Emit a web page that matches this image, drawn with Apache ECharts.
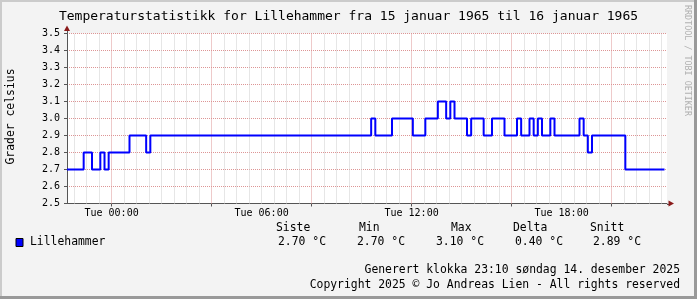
<!DOCTYPE html>
<html><head><meta charset="utf-8">
<script src="https://cdn.jsdelivr.net/npm/echarts@6/dist/echarts.min.js"></script>
<style>html,body{margin:0;padding:0;background:#f3f3f3;overflow:hidden}#c{width:697px;height:299px}</style>
</head><body><div id="c"></div>
<script>
const titleText = 'Temperaturstatistikk for Lillehammer fra 15 januar 1965 til 16 januar 1965';
const yAxisTitle = 'Grader celsius';
const sideText = 'RRDTOOL / TOBI OETIKER';
const seriesName = 'Lillehammer';
// time in minutes relative to Tue 00:00, value holds from that time on
const times = [-107,-67,-47,-27,-17,-7,43,83,93,623,633,673,723,753,783,803,813,823,853,863,893,913,943,973,983,1003,1013,1023,1033,1053,1063,1123,1133,1143,1153,1233,1327];
const temps = [2.7,2.8,2.7,2.8,2.7,2.8,2.9,2.8,2.9,3.0,2.9,3.0,2.9,3.0,3.1,3.0,3.1,3.0,2.9,3.0,2.9,3.0,2.9,3.0,2.9,3.0,2.9,3.0,2.9,3.0,2.9,3.0,2.9,2.8,2.9,2.7,2.7];
const xMin = -107, xMax = 1333;
const yMin = 2.5, yMax = 3.5, yStep = 0.1;
const labelTimes = [0, 360, 720, 1080];
const labelTexts = ['Tue 00:00', 'Tue 06:00', 'Tue 12:00', 'Tue 18:00'];
const majorGrid = [0, 240, 480, 720, 960, 1200];
const minorGrid = [];
for (let t = -90; t <= 1320; t += 30) if (majorGrid.indexOf(t) < 0) minorGrid.push(t);
const statHeaders = ['Siste', 'Min', 'Max', 'Delta', 'Snitt'];
const statValues = [2.70, 2.70, 3.10, 0.40, 2.89];
const statUnit = '°C';
const generatedText = 'Generert klokka 23:10 søndag 14. desember 2025';
const copyrightText = 'Copyright 2025 © Jo Andreas Lien - All rights reserved';

const MONO = "'DejaVu Sans Mono', 'Liberation Mono', monospace";
const AXIS = '#555555', ARROW = '#8a1a1a', GRID = '#cdcdcd', MGRID = '#dd9595';

const chart = echarts.init(document.getElementById('c'), null, {renderer: 'canvas'});
const data = times.map((t, i) => [t, temps[i]]);

const headerX = [276, 359, 451, 513, 590];
const valueX = [278, 357, 436, 515, 593];
const graphics = [];
statHeaders.forEach((h, i) => graphics.push({type: 'text', x: headerX[i], y: 228, style: {text: h, font: '11.4px ' + MONO, fill: '#000', textAlign: 'left', textVerticalAlign: 'middle'}}));
statValues.forEach((v, i) => graphics.push({type: 'text', x: valueX[i], y: 242.5, style: {text: v.toFixed(2) + ' ' + statUnit, font: '11.4px ' + MONO, fill: '#000', textAlign: 'left', textVerticalAlign: 'middle'}}));
graphics.push({type: 'text', x: 680, y: 270, style: {text: generatedText, font: '11.4px ' + MONO, fill: '#000', textAlign: 'right', textVerticalAlign: 'middle'}});
graphics.push({type: 'text', x: 680, y: 285, style: {text: copyrightText, font: '11.4px ' + MONO, fill: '#000', textAlign: 'right', textVerticalAlign: 'middle'}});
graphics.push({type: 'text', x: 11.5, y: 116.5, rotation: Math.PI / 2, style: {text: yAxisTitle, font: '11.4px ' + MONO, fill: '#000', textAlign: 'center', textVerticalAlign: 'middle'}});
graphics.push({type: 'text', x: 687, y: 5, rotation: -Math.PI / 2, style: {text: sideText, font: '8.4px ' + MONO, fill: '#b0b0b0', textAlign: 'left', textVerticalAlign: 'middle'}});
// image frame
graphics.push({type: 'rect', shape: {x: 0, y: 0, width: 697, height: 2}, style: {fill: '#cbcbcb'}, silent: true});
graphics.push({type: 'rect', shape: {x: 0, y: 0, width: 2, height: 299}, style: {fill: '#cbcbcb'}, silent: true});
graphics.push({type: 'rect', shape: {x: 694, y: 0, width: 3, height: 299}, style: {fill: '#999999'}, silent: true});
graphics.push({type: 'rect', shape: {x: 0, y: 296, width: 697, height: 3}, style: {fill: '#999999'}, silent: true});

function gridLines(values, color, z) {
  return {type: 'line', xAxisIndex: 0, yAxisIndex: 0, data: [], symbol: 'none', silent: true, z: z,
    lineStyle: {opacity: 0}, tooltip: {show: false},
    markLine: {silent: true, symbol: ['none', 'none'], z: z, animation: false, label: {show: false},
      emphasis: {disabled: true},
      lineStyle: {color: color, width: 1, type: [1, 1]},
      data: values.map(v => ({xAxis: v}))}};
}

chart.setOption({
  animation: false,
  backgroundColor: '#f3f3f3',
  title: {text: titleText, left: 'center', top: 5, textStyle: {fontFamily: MONO, fontSize: 13, fontWeight: 'normal', color: '#000'}},
  legend: {left: 15.5, top: 237, padding: 0, icon: 'rect', itemWidth: 7, itemHeight: 8, itemGap: 10, data: [seriesName],
    itemStyle: {borderColor: '#000', borderWidth: 1},
    textStyle: {fontFamily: MONO, fontSize: 11.4, color: '#000', padding: [0, 0, 0, 2]}},
  grid: {left: 67, right: 30, top: 33.5, bottom: 95.5, backgroundColor: '#fff', show: true, borderWidth: 0},
  xAxis: {type: 'value', min: xMin, max: xMax, position: 'bottom',
    axisLine: {show: true, onZero: false, lineStyle: {color: AXIS, width: 1}},
    axisTick: {show: true, customValues: majorGrid, length: 3, lineStyle: {color: AXIS}},
    axisLabel: {show: true, customValues: labelTimes, margin: 5, fontFamily: MONO, fontSize: 10, color: '#000',
      formatter: v => labelTexts[labelTimes.indexOf(v)] || ''},
    splitLine: {show: false}},
  yAxis: {type: 'value', min: yMin, max: yMax, interval: yStep,
    axisLine: {show: true, onZero: false, lineStyle: {color: AXIS, width: 1}},
    axisTick: {show: true, length: 3, lineStyle: {color: AXIS}},
    axisLabel: {margin: 7, fontFamily: MONO, fontSize: 10, color: '#000', formatter: v => v.toFixed(1)},
    splitLine: {show: true, lineStyle: {color: MGRID, width: 1, type: [1, 1]}}},
  series: [
    gridLines(minorGrid, GRID, 1),
    gridLines(majorGrid, MGRID, 2),
    {name: seriesName, type: 'line', xAxisIndex: 0, step: 'end', data: data, symbol: 'none', z: 10,
      lineStyle: {color: '#0000ff', width: 2}, itemStyle: {color: '#0000ff'}}
  ],
  graphic: graphics
});

// axis arrows, placed through the chart's own scales
const pX = chart.convertToPixel({gridIndex: 0}, [xMax, yMin]);
const pY = chart.convertToPixel({gridIndex: 0}, [xMin, yMax]);
graphics.push({type: 'line', shape: {x1: pX[0], y1: Math.round(pX[1]) + 0.5, x2: pX[0] + 2, y2: Math.round(pX[1]) + 0.5}, style: {stroke: AXIS, lineWidth: 1}, z: 10});
graphics.push({type: 'line', shape: {x1: Math.round(pY[0]) + 0.5, y1: pY[1], x2: Math.round(pY[0]) + 0.5, y2: pY[1] - 2.5}, style: {stroke: AXIS, lineWidth: 1}, z: 10});
graphics.push({type: 'polygon', shape: {points: [[pX[0] + 1.5, pX[1] - 3], [pX[0] + 1.5, pX[1] + 3], [pX[0] + 7, pX[1]]]}, style: {fill: ARROW}, z: 10});
graphics.push({type: 'polygon', shape: {points: [[pY[0] - 3, pY[1] - 2.5], [pY[0] + 3, pY[1] - 2.5], [pY[0], pY[1] - 8]]}, style: {fill: ARROW}, z: 10});
chart.setOption({graphic: graphics});
</script></body></html>
